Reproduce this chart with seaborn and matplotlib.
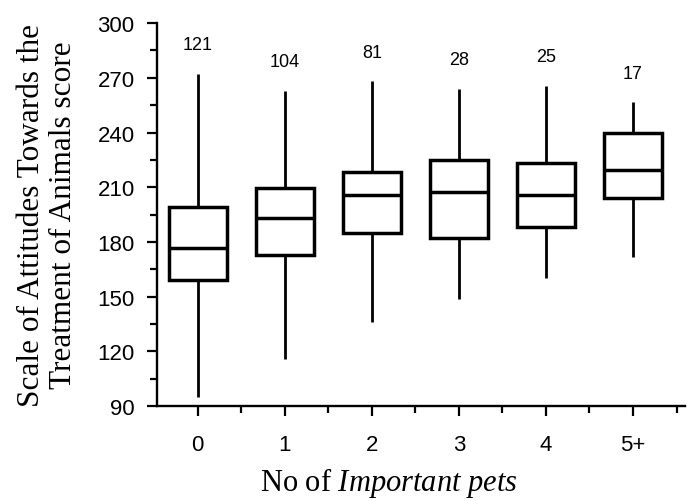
import matplotlib
matplotlib.use("Agg")
import matplotlib.pyplot as plt
from matplotlib.ticker import MultipleLocator
import seaborn as sns
import pandas as pd

# five-number summaries (min, Q1, median, Q3, max)
groups = ["0", "1", "2", "3", "4", "5+"]
n_counts = [121, 104, 81, 28, 25, 17]
whis_lo = [95, 116, 136, 149, 160, 172]
q1 = [159, 173, 185, 182, 188, 204]
medians = [176.5, 193, 205.5, 207.5, 205.5, 219.5]
q3 = [199, 209.5, 218.5, 225, 223.5, 239.5]
whis_hi = [272, 263, 268, 264, 265.5, 256.5]

# with 5 values per group, linear quantiles hit Q1/Q3 exactly
rows = []
for i, g in enumerate(groups):
    for v in (whis_lo[i], q1[i], medians[i], q3[i], whis_hi[i]):
        rows.append({"pets": g, "score": v})
df = pd.DataFrame(rows)

sns.set_style("ticks")
plt.rcParams["font.family"] = ["Liberation Sans", "DejaVu Sans"]
plt.rcParams["text.color"] = "black"
plt.rcParams["axes.labelcolor"] = "black"
plt.rcParams["xtick.color"] = "black"
plt.rcParams["ytick.color"] = "black"
plt.rcParams["mathtext.fontset"] = "custom"
plt.rcParams["mathtext.rm"] = "Liberation Serif"
plt.rcParams["mathtext.it"] = "Liberation Serif:italic"

fig = plt.figure(figsize=(6.88, 5.02), dpi=100)
ax = fig.add_axes([0.228, 0.189, 0.768, 0.763])

sns.boxplot(data=df, x="pets", y="score", order=groups, ax=ax,
            width=0.66, color="white", linecolor="black", linewidth=2.5,
            whis=(0, 100), showcaps=False, fliersize=0,
            whiskerprops={"linewidth": 2.0},
            medianprops={"linewidth": 2.5})

for i, n in enumerate(n_counts):
    ax.text(i, whis_hi[i] + 16, str(n), ha="center", va="center", fontsize=13)

ax.set_ylim(90, 300)
ax.set_xlim(-0.47, 5.6)
ax.yaxis.set_major_locator(MultipleLocator(30))
ax.yaxis.set_minor_locator(MultipleLocator(15))
ax.xaxis.set_minor_locator(MultipleLocator(0.5))

sns.despine(ax=ax)
for s in ("left", "bottom"):
    ax.spines[s].set_linewidth(1.7)
    ax.spines[s].set_color("black")

ax.tick_params(which="major", length=7, width=1.6, labelsize=16, color="black",
               labelcolor="black")
ax.tick_params(which="minor", length=5, width=1.6, color="black")
ax.tick_params(axis="x", which="major", pad=13)
ax.tick_params(axis="y", which="major", pad=9)

ax.set_ylabel("Scale of Attitudes Towards the\nTreatment of Animals score",
              family="Liberation Serif", fontsize=22.5, linespacing=1.12,
              va="center")
ax.yaxis.set_label_coords(-0.207, 0.5)
ax.set_xlabel(r"No of $\mathit{Important\ pets}$", family="Liberation Serif",
              fontsize=22, va="center")
ax.xaxis.set_label_coords(0.439, -0.198)

plt.savefig("out.png", dpi=100)
